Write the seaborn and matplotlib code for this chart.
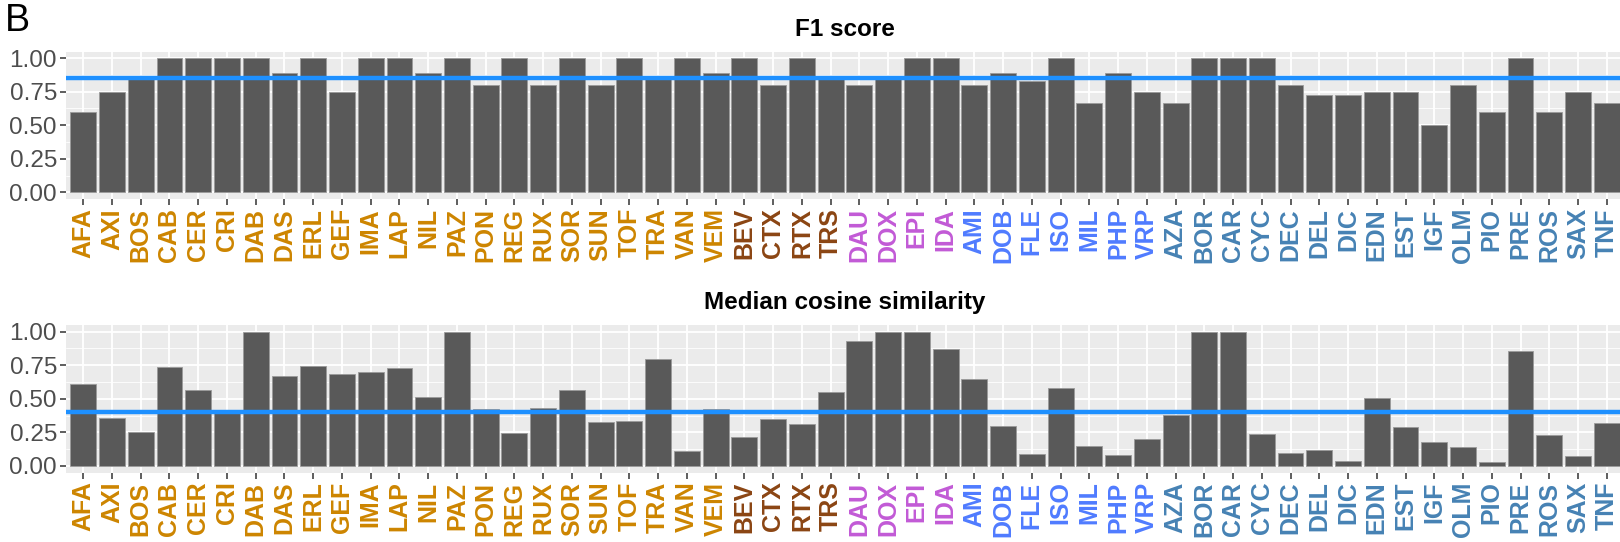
import matplotlib
matplotlib.use("Agg")
import matplotlib.pyplot as plt
from matplotlib.ticker import MultipleLocator
import seaborn as sns
import pandas as pd

categories = ["AFA", "AXI", "BOS", "CAB", "CER", "CRI", "DAB", "DAS", "ERL", "GEF",
              "IMA", "LAP", "NIL", "PAZ", "PON", "REG", "RUX", "SOR", "SUN", "TOF",
              "TRA", "VAN", "VEM", "BEV", "CTX", "RTX", "TRS", "DAU", "DOX", "EPI",
              "IDA", "AMI", "DOB", "FLE", "ISO", "MIL", "PHP", "VRP", "AZA", "BOR",
              "CAR", "CYC", "DEC", "DEL", "DIC", "EDN", "EST", "IGF", "OLM", "PIO",
              "PRE", "ROS", "SAX", "TNF"]

category_group = (["g1"] * 23 + ["g2"] * 4 + ["g3"] * 4 + ["g4"] * 7 + ["g5"] * 16)

group_colors = {"g1": "#CD8500", "g2": "#8B4513", "g3": "#C25AD6",
                "g4": "#4F7BFF", "g5": "#4682B4"}

f1_score = [0.60, 0.75, 0.857, 1.0, 1.0, 1.0, 1.0, 0.889, 1.0, 0.75,
            1.0, 1.0, 0.889, 1.0, 0.80, 1.0, 0.80, 1.0, 0.80, 1.0,
            0.857, 1.0, 0.889, 1.0, 0.80, 1.0, 0.857, 0.80, 0.857, 1.0,
            1.0, 0.80, 0.889, 0.833, 1.0, 0.667, 0.889, 0.75, 0.667, 1.0,
            1.0, 1.0, 0.80, 0.727, 0.727, 0.75, 0.75, 0.50, 0.80, 0.60,
            1.0, 0.60, 0.75, 0.667]

cosine_similarity = [0.613, 0.359, 0.252, 0.738, 0.566, 0.41, 1.0, 0.671, 0.741, 0.688,
                     0.701, 0.726, 0.511, 1.0, 0.424, 0.244, 0.431, 0.566, 0.324, 0.334,
                     0.798, 0.110, 0.424, 0.212, 0.349, 0.312, 0.554, 0.928, 1.0, 1.0,
                     0.868, 0.651, 0.297, 0.087, 0.581, 0.147, 0.082, 0.197, 0.377, 1.0,
                     1.0, 0.234, 0.095, 0.115, 0.037, 0.509, 0.292, 0.177, 0.140, 0.030,
                     0.858, 0.232, 0.075, 0.317]

f1_reference = 0.855
cosine_reference = 0.40

panel_titles = ["F1 score", "Median cosine similarity"]
y_ticks = [0.00, 0.25, 0.50, 0.75, 1.00]

sns.set_theme(style="darkgrid")
plt.rcParams["font.family"] = ["Liberation Sans", "DejaVu Sans"]

fig = plt.figure(figsize=(16.2, 5.42), dpi=100)
ax_top = fig.add_axes([66 / 1620, 1 - 199 / 542, 1558 / 1620, 147.5 / 542])
ax_bot = fig.add_axes([66 / 1620, 1 - 472.5 / 542, 1558 / 1620, 147.5 / 542])

for ax, vals, ref, title, ty in [(ax_top, f1_score, f1_reference, panel_titles[0], 1 - 29 / 542),
                                 (ax_bot, cosine_similarity, cosine_reference, panel_titles[1], 1 - 302 / 542)]:
    df = pd.DataFrame({"category": categories, "value": vals})
    sns.barplot(data=df, x="category", y="value", order=categories, color="#595959",
                saturation=1, width=0.9, edgecolor="#9a9a9a", linewidth=0.6, ax=ax, zorder=3)
    ax.axhline(ref, color="#1E90FF", lw=3.2, zorder=4)
    ax.set_facecolor("#EBEBEB")
    ax.set_xlim(-0.6, len(categories) - 1 + 0.6)
    ax.set_ylim(-0.05, 1.05)
    ax.set_yticks(y_ticks)
    ax.set_yticklabels([f"{t:.2f}" for t in y_ticks])
    ax.yaxis.set_minor_locator(MultipleLocator(0.125))
    ax.grid(which="major", color="white", lw=1.3, zorder=0)
    ax.grid(which="minor", axis="y", color="white", lw=0.6, zorder=0)
    ax.set_axisbelow(True)
    for s in ax.spines.values():
        s.set_visible(False)
    ax.set_xlabel("")
    ax.set_ylabel("")
    ax.tick_params(axis="both", which="major", length=4, width=1.1, color="#333333",
                   pad=2.5, bottom=True, left=True)
    ax.tick_params(axis="y", labelsize=17.5, labelcolor="#4D4D4D")
    ax.tick_params(axis="y", which="minor", left=False)
    ax.set_xticks(range(len(categories)))
    ax.set_xticklabels(categories, rotation=90, fontsize=18, fontweight="bold")
    for lbl, g in zip(ax.get_xticklabels(), category_group):
        lbl.set_color(group_colors[g])
    fig.text((66 + 1624) / 2 / 1620, ty, title, ha="center", va="center",
             fontsize=17.5, fontweight="bold", color="black")

fig.text(0.003, 1 - 3 / 542, "B", ha="left", va="top", fontsize=27, color="black")

fig.savefig("out.png", dpi=100)
